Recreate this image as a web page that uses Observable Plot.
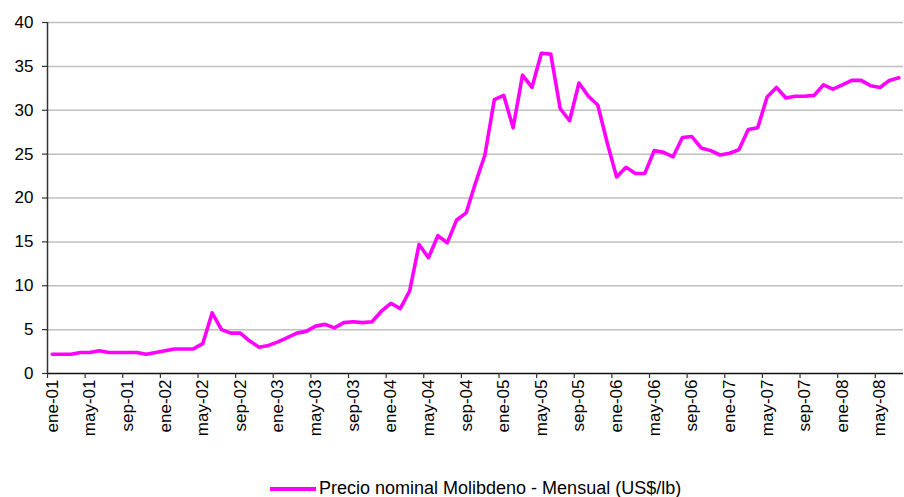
<!DOCTYPE html>
<html>
<head>
<meta charset="utf-8">
<script src="https://cdn.jsdelivr.net/npm/d3@7"></script>
<script src="https://cdn.jsdelivr.net/npm/@observablehq/plot@0.6"></script>
<style>
  html, body { margin: 0; padding: 0; background: #fff; }
  #wrap { position: relative; width: 904px; height: 497px; overflow: hidden; font-family: "Liberation Sans", Arial, sans-serif; }
  #legend { position: absolute; left: 270px; top: 478px; display: flex; align-items: center; white-space: nowrap; font-size: 18px; color: #000; }
  #legend .swatch { width: 46px; height: 4px; background: #ff00ff; margin-right: 3px; }
</style>
</head>
<body>
<div id="wrap">
  <div id="chart"></div>
  <div id="legend"><span class="swatch"></span><span id="legendText"></span></div>
</div>
<script>
// Monthly nominal molybdenum price (US$/lb), Jan 2001 – Jul 2008
const seriesName = "Precio nominal Molibdeno - Mensual (US$/lb)";
const price2001 = [2.2, 2.2, 2.2, 2.4, 2.4, 2.6, 2.4, 2.4, 2.4, 2.4, 2.2, 2.4];
const price2002 = [2.6, 2.8, 2.8, 2.8, 3.4, 6.9, 5.0, 4.6, 4.6, 3.7, 3.0, 3.2];
const price2003 = [3.6, 4.1, 4.6, 4.8, 5.4, 5.6, 5.2, 5.8, 5.9, 5.8, 5.9, 7.1];
const price2004 = [8.0, 7.4, 9.4, 14.7, 13.2, 15.7, 14.9, 17.5, 18.3, 21.7, 24.9, 31.2];
const price2005 = [31.7, 28.0, 34.0, 32.6, 36.5, 36.4, 30.2, 28.8, 33.1, 31.6, 30.6, 26.3];
const price2006 = [22.4, 23.5, 22.8, 22.8, 25.4, 25.2, 24.7, 26.9, 27.0, 25.7, 25.4, 24.9];
const price2007 = [25.1, 25.5, 27.8, 28.0, 31.5, 32.6, 31.4, 31.6, 31.6, 31.7, 32.9, 32.4];
const price2008 = [32.9, 33.4, 33.4, 32.8, 32.6, 33.4, 33.7];

// Category labels shown on the x axis (every 4th month)
const xTickLabels = ["ene-01","may-01","sep-01","ene-02","may-02","sep-02","ene-03","may-03","sep-03",
  "ene-04","may-04","sep-04","ene-05","may-05","sep-05","ene-06","may-06","sep-06",
  "ene-07","may-07","sep-07","ene-08","may-08"];
const labelStep = 4;
const yTicks = [0, 5, 10, 15, 20, 25, 30, 35, 40];

const prices = [...price2001, ...price2002, ...price2003, ...price2004,
                ...price2005, ...price2006, ...price2007, ...price2008];
const data = prices.map((v, i) => ({i, v}));
const n = prices.length;

// category boundaries for tick marks, category centres for labels
const tickBounds = xTickLabels.map((_, k) => k * labelStep);
const labelCentres = xTickLabels.map((_, k) => k * labelStep + 0.5);

const chart = Plot.plot({
  width: 904,
  height: 460,
  marginLeft: 47,
  marginRight: 1,
  marginTop: 22,
  marginBottom: 87,
  style: {fontFamily: "'Liberation Sans', Arial, sans-serif", color: "#000", background: "#fff", overflow: "visible"},
  x: {domain: [0, n], axis: null, label: null},
  y: {domain: [0, 40], axis: null, label: null},
  marks: [
    Plot.gridY(yTicks.filter(d => d > 0), {stroke: "#c0c0c0", strokeOpacity: 1, strokeWidth: 1.5}),
    Plot.axisY(yTicks, {tickSize: 5, tickPadding: 9, fontSize: 17, stroke: "#333", strokeWidth: 1.2, label: null}),
    Plot.ruleX([0], {stroke: "#333", strokeWidth: 1.5}),
    Plot.ruleY([0], {stroke: "#111", strokeWidth: 1.5}),
    Plot.axisX(tickBounds, {tickSize: 5, tickFormat: () => "", stroke: "#333", strokeWidth: 1.2, label: null}),
    Plot.axisX(labelCentres, {
      tickSize: 0, tickPadding: 6, tickRotate: -90, fontSize: 17, label: null,
      tickFormat: d => xTickLabels[Math.round((d - 0.5) / labelStep)]
    }),
    Plot.lineY(data, {x: d => d.i + 0.5, y: "v", stroke: "#ff00ff", strokeWidth: 3.6, strokeLinejoin: "round"})
  ]
});
document.getElementById("chart").appendChild(chart);
document.getElementById("legendText").textContent = seriesName;
</script>
</body>
</html>
